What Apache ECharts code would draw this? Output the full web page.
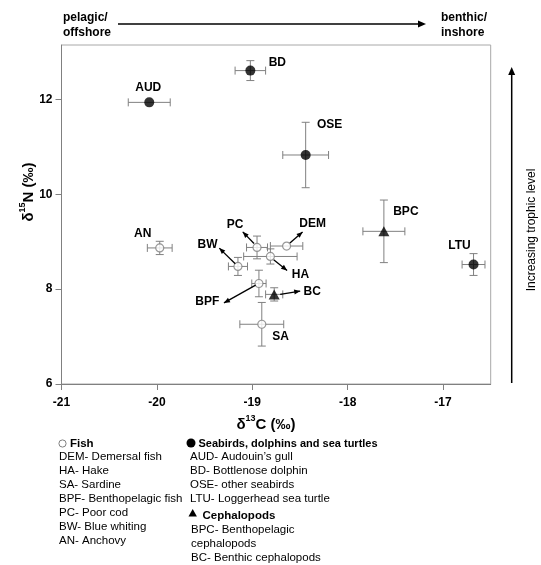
<!DOCTYPE html>
<html>
<head>
<meta charset="utf-8">
<script src="https://cdn.jsdelivr.net/npm/echarts@6/dist/echarts.min.js"></script>
<style>html,body{margin:0;padding:0;background:#fff}#c{width:541px;height:565px}</style>
</head>
<body>
<div id="c"></div>
<script>
// ---- data ----
const fishNames = ['DEM','HA','SA','BPF','PC','BW','AN'];
const fishC     = [-18.64,-18.81,-18.90,-18.93,-18.95,-19.15,-19.97];
const fishN     = [8.91, 8.69, 7.26, 8.12, 8.88, 8.48, 8.87];
const fishCsd   = [0.17, 0.28, 0.23, 0.075, 0.11, 0.10, 0.13];
const fishNsd   = [0.06, 0.16, 0.46, 0.28, 0.24, 0.19, 0.14];

const topNames = ['AUD','BD','OSE','LTU'];
const topC     = [-20.08,-19.02,-18.44,-16.68];
const topN     = [11.94, 12.61, 10.83, 8.52];
const topCsd   = [0.22, 0.16, 0.24, 0.12];
const topNsd   = [0.04, 0.21, 0.69, 0.23];

const cephNames = ['BPC','BC'];
const cephC     = [-17.62,-18.77];
const cephN     = [9.22, 7.89];
const cephCsd   = [0.22, 0.09];
const cephNsd   = [0.66, 0.14];

const xTicks = [-21,-20,-19,-18,-17];
const yTicks = [6,8,10,12];

const fishLegend = ['DEM- Demersal fish','HA- Hake','SA- Sardine','BPF- Benthopelagic fish','PC- Poor cod','BW- Blue whiting','AN- Anchovy'];
const topLegend  = ['AUD- Audouin\u2019s gull','BD- Bottlenose dolphin','OSE- other seabirds','LTU- Loggerhead sea turtle'];
const cephLegend = ['BPC- Benthopelagic','cephalopods','BC- Benthic cephalopods'];

// ---- label/arrow layout (pixel offsets from each point; style only) ----
const labelLayout = {
  AUD:{l:[-1,-14.5]}, BD:{l:[27,-8]}, OSE:{l:[24,-30]}, BPC:{l:[22,-20]}, LTU:{l:[-14,-19]},
  AN:{l:[-17,-14]}, SA:{l:[18.7,12.4]},
  PC:{l:[-22,-23], a:[[-3,-4],[-14.3,-15.6]]},
  DEM:{l:[26,-22.4], a:[[3.3,-3],[16,-14]]},
  BW:{l:[-30.4,-21.7], a:[[-2.7,-2.7],[-18.7,-18.3]]},
  HA:{l:[30,18], a:[[3.3,3.3],[16.7,14]]},
  BPF:{l:[-51.6,18.4], a:[[-3.3,1.7],[-35,19.4]]},
  BC:{l:[38,-2.6], a:[[6,0],[26,-3.3]]}
};

const FONT = "'Liberation Sans', Arial, Helvetica, sans-serif";
const GREY = '#808080';

function zip(names, c, n, sc, sn){ return names.map((nm,i)=>[c[i], n[i], sc[i], sn[i], nm]); }
const allPts = [].concat(zip(fishNames,fishC,fishN,fishCsd,fishNsd), zip(topNames,topC,topN,topCsd,topNsd), zip(cephNames,cephC,cephN,cephCsd,cephNsd));

function arrowHead(p0, p1, len, wid){
  const dx=p1[0]-p0[0], dy=p1[1]-p0[1], L=Math.hypot(dx,dy)||1;
  const ux=dx/L, uy=dy/L, bx=p1[0]-ux*len, by=p1[1]-uy*len;
  return [[p1[0],p1[1]],[bx-uy*wid/2, by+ux*wid/2],[bx+uy*wid/2, by-ux*wid/2]];
}

const chart = echarts.init(document.getElementById('c'), null, {renderer:'canvas'});

const option = {
  animation:false,
  backgroundColor:'#fff',
  grid:{left:61.5, right:50.3, top:45, bottom:181, show:true, borderColor:'#a8a8a8', borderWidth:1, backgroundColor:'transparent'},
  xAxis:{type:'value', min:xTicks[0], max:-16.5, interval:1,
    axisLine:{show:true, onZero:false, lineStyle:{color:GREY, width:1}},
    axisTick:{show:true, inside:false, length:6, lineStyle:{color:GREY}, customValues:xTicks},
    splitLine:{show:false},
    axisLabel:{color:'#000', fontFamily:FONT, fontSize:12, fontWeight:'bold', margin:13, customValues:xTicks, formatter:v=>String(v)}},
  yAxis:{type:'value', min:yTicks[0], max:13.15, interval:2,
    axisLine:{show:true, onZero:false, lineStyle:{color:GREY, width:1}},
    axisTick:{show:true, inside:false, length:6, lineStyle:{color:GREY}, customValues:yTicks},
    splitLine:{show:false},
    axisLabel:{color:'#000', fontFamily:FONT, fontSize:12, fontWeight:'bold', margin:9, customValues:yTicks, formatter:v=>String(v)}},
  series:[
    { type:'custom', name:'errors', z:2, data:allPts,
      renderItem:(params, api)=>{
        const x=api.value(0), y=api.value(1), sx=api.value(2), sy=api.value(3);
        const c=api.coord([x,y]), l=api.coord([x-sx,y]), r=api.coord([x+sx,y]), t=api.coord([x,y+sy]), b=api.coord([x,y-sy]);
        const st={stroke:GREY, lineWidth:1};
        const cap=4, ch=[];
        ch.push({type:'line', shape:{x1:l[0],y1:c[1],x2:r[0],y2:c[1]}, style:st});
        ch.push({type:'line', shape:{x1:l[0],y1:c[1]-cap,x2:l[0],y2:c[1]+cap}, style:st});
        ch.push({type:'line', shape:{x1:r[0],y1:c[1]-cap,x2:r[0],y2:c[1]+cap}, style:st});
        if (b[1]-t[1] > 9){
          ch.push({type:'line', shape:{x1:c[0],y1:t[1],x2:c[0],y2:b[1]}, style:st});
          ch.push({type:'line', shape:{x1:c[0]-cap,y1:t[1],x2:c[0]+cap,y2:t[1]}, style:st});
          ch.push({type:'line', shape:{x1:c[0]-cap,y1:b[1],x2:c[0]+cap,y2:b[1]}, style:st});
        }
        return {type:'group', children:ch};
      }},
    { type:'scatter', name:'Fish', z:5, symbol:'circle', symbolSize:8,
      itemStyle:{color:'#fff', borderColor:GREY, borderWidth:1.2},
      data:fishC.map((v,i)=>[v, fishN[i]]) },
    { type:'scatter', name:'Top', z:5, symbol:'circle', symbolSize:10,
      itemStyle:{color:'#000'},
      data:topC.map((v,i)=>[v, topN[i]]) },
    { type:'scatter', name:'Ceph', z:5, symbol:'triangle', symbolSize:[11,10],
      itemStyle:{color:'#000'},
      data:cephC.map((v,i)=>[v, cephN[i]]) },
    { type:'custom', name:'labels', z:6, data:allPts,
      renderItem:(params, api)=>{
        const nm = allPts[params.dataIndex][4];
        const c = api.coord([api.value(0), api.value(1)]);
        const lay = labelLayout[nm];
        const ch=[];
        ch.push({type:'text', style:{text:nm, x:c[0]+lay.l[0], y:c[1]+lay.l[1], align:'center', verticalAlign:'middle', font:'bold 12px '+FONT, fill:'#000'}});
        if (lay.a){
          const p0=[c[0]+lay.a[0][0], c[1]+lay.a[0][1]], p1=[c[0]+lay.a[1][0], c[1]+lay.a[1][1]];
          const h = arrowHead(p0,p1,6,5);
          ch.push({type:'line', shape:{x1:p0[0],y1:p0[1],x2:p1[0],y2:p1[1]}, style:{stroke:'#000', lineWidth:1.3}});
          ch.push({type:'polygon', shape:{points:h}, style:{fill:'#000'}});
        }
        return {type:'group', children:ch};
      }}
  ],
  graphic:[]
};

const g = [];
// top annotation
g.push({type:'text', left:63, top:10, style:{text:'pelagic/\noffshore', font:'bold 12px '+FONT, fill:'#000', lineHeight:15}});
g.push({type:'text', left:441, top:10, style:{text:'benthic/\ninshore', font:'bold 12px '+FONT, fill:'#000', lineHeight:15}});
g.push({type:'line', shape:{x1:118,y1:24,x2:419,y2:24}, style:{stroke:'#000', lineWidth:1.5}});
g.push({type:'polygon', shape:{points:[[426,24],[418,20.5],[418,27.5]]}, style:{fill:'#000'}});
// right annotation
g.push({type:'line', shape:{x1:511.7,y1:383,x2:511.7,y2:75}, style:{stroke:'#000', lineWidth:1.5}});
g.push({type:'polygon', shape:{points:[[511.7,67],[508.2,75],[515.2,75]]}, style:{fill:'#000'}});
g.push({type:'text', x:532, y:230, rotation:Math.PI/2, style:{text:'Increasing trophic level', font:'12px '+FONT, fill:'#000', align:'center', verticalAlign:'middle'}});
// axis titles
const rich = {b:{fontFamily:FONT, fontSize:15, fontWeight:'bold', lineHeight:18, verticalAlign:'bottom'}, s:{fontFamily:FONT, fontSize:9, fontWeight:'bold', lineHeight:18, verticalAlign:'top'}};
g.push({type:'text', x:266, y:423, style:{text:'{b|\u03b4}{s|13}{b|C (\u2030)}', rich:rich, align:'center', verticalAlign:'middle', fill:'#000'}});
g.push({type:'text', x:27, y:192, rotation:Math.PI/2, style:{text:'{b|\u03b4}{s|15}{b|N (\u2030)}', rich:rich, align:'center', verticalAlign:'middle', fill:'#000'}});
// legend
const LF='11.5px '+FONT, LB='bold 11px '+FONT, LH=13.9;
g.push({type:'circle', shape:{cx:62.5, cy:443.5, r:3.6}, style:{fill:'#fff', stroke:GREY, lineWidth:1}});
g.push({type:'text', x:70, y:444, style:{text:'Fish', font:'bold 11.5px '+FONT, fill:'#000', verticalAlign:'middle'}});
fishLegend.forEach((t,i)=>g.push({type:'text', x:59, y:457.3+i*LH, style:{text:t, font:LF, fill:'#000', verticalAlign:'middle'}}));
g.push({type:'circle', shape:{cx:191, cy:443, r:4.5}, style:{fill:'#000'}});
g.push({type:'text', x:198.5, y:444, style:{text:'Seabirds, dolphins and sea turtles', font:LB, fill:'#000', verticalAlign:'middle'}});
topLegend.forEach((t,i)=>g.push({type:'text', x:190, y:457.3+i*LH, style:{text:t, font:LF, fill:'#000', verticalAlign:'middle'}}));
g.push({type:'polygon', shape:{points:[[192.7,509],[188.5,516.5],[196.9,516.5]]}, style:{fill:'#000'}});
g.push({type:'text', x:202.5, y:516, style:{text:'Cephalopods', font:'bold 11.5px '+FONT, fill:'#000', verticalAlign:'middle'}});
cephLegend.forEach((t,i)=>g.push({type:'text', x:191, y:530+i*LH, style:{text:t, font:LF, fill:'#000', verticalAlign:'middle'}}));
option.graphic = g;

chart.setOption(option);
</script>
</body>
</html>
